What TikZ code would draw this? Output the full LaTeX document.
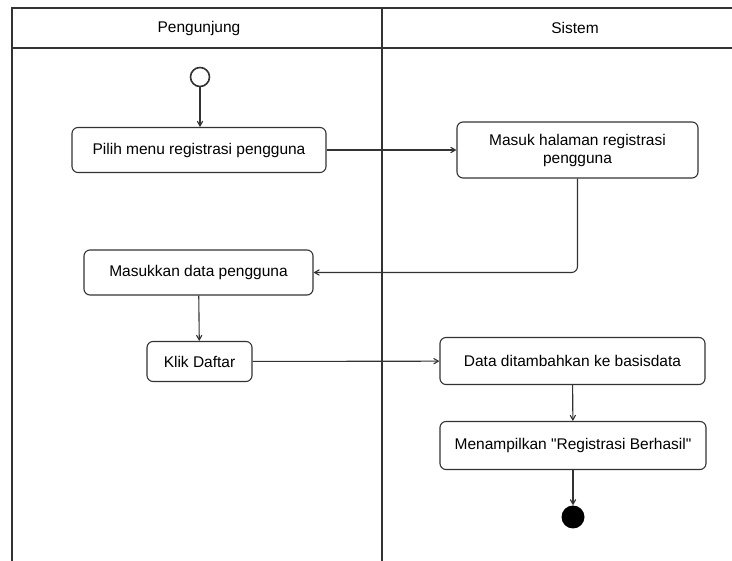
\documentclass[tikz,border=0pt]{standalone}
\usepackage{fontspec}
\setmainfont{Liberation Sans}
\usepackage{tikz}
\usetikzlibrary{shapes,arrows,positioning}

\begin{document}
\begin{tikzpicture}[x=1pt, y=-1pt, >=angle 60]
			\tikzstyle{Action} 	= [rectangle, rounded corners=6pt, draw=black!80, line width=1.1pt, align=center, inner sep=2pt, font=\fontsize{15.5}{18}\selectfont]
			\tikzstyle{Lane}	= [draw=black!80, line width=1.1pt]
			\tikzstyle{Flow}	= [->, draw=black!80, line width=1.1pt]
			\tikzstyle{Title}	= [font=\fontsize{15.5}{18}\selectfont]
			
			\useasboundingbox (0,0) rectangle (732,561);
			
			% swimlanes
			\draw [Lane] (12,561) -- (12,8) -- (732,8);
			\draw [Lane] (12,48) -- (732,48);
			\draw [Lane] (382,8) -- (382,561);
			\node (hPengunjung) at (199,28) [Title] {Pengunjung};
			\node (hSistem) at (575,28) [Title] {Sistem};
			
			\node (start) at (200,77) [circle, draw=black!80, line width=1.6pt, fill=white, minimum size=19pt, inner sep=0pt] {};
			\node (a1) at (199,150) [Action, minimum width=254pt, minimum height=45pt] {Pilih menu registrasi pengguna};
			\node (a2) at (577.5,150) [Action, minimum width=241pt, minimum height=56pt] {Masuk halaman registrasi\\pengguna};
			\node (a3) at (198.5,272.5) [Action, minimum width=229pt, minimum height=45pt] {Masukkan data pengguna};
			\node (a4) at (199.5,361.5) [Action, minimum width=105pt, minimum height=40pt] {Klik Daftar};
			\node (a5) at (572.5,361) [Action, minimum width=265pt, minimum height=47pt] {Data ditambahkan ke basisdata};
			\node (a6) at (573,445.5) [Action, minimum width=266pt, minimum height=48pt] {Menampilkan \textquotedbl Registrasi Berhasil\textquotedbl};
			\node (stop) at (573,517) [circle, fill=black, minimum size=23pt, inner sep=0pt] {};
			
			\draw [Flow] (start) to (a1.north -| start);
			\draw [Flow] (a1) to (a2);
			\draw [Flow, rounded corners=6pt] (a2.south) |- (a3.east);
			\draw [Flow] (a3) to (a4);
			\draw [Flow] (a4) to (a5);
			\draw [Flow] (a5) to (a6);
			\draw [Flow] (a6) to (stop);
		\end{tikzpicture}
\end{document}
